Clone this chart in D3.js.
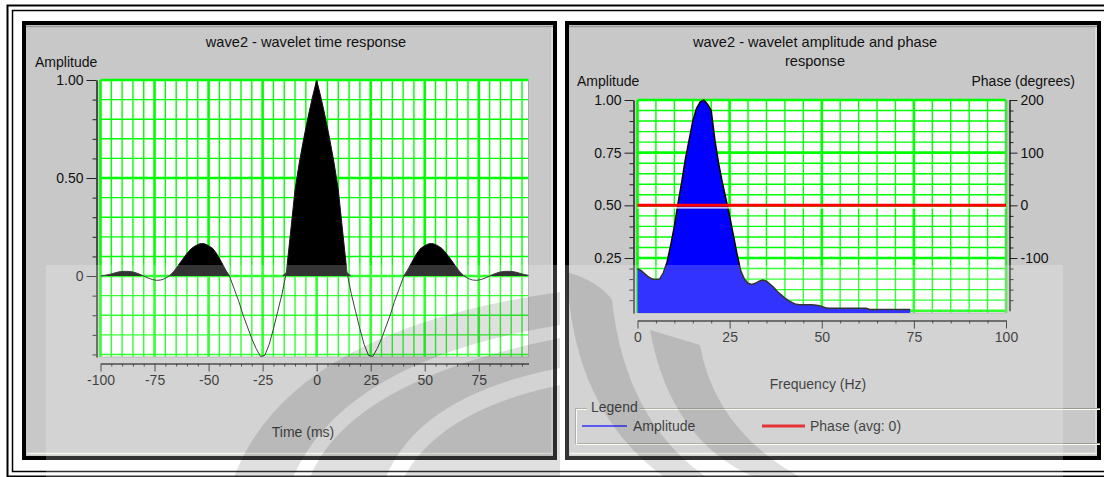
<!DOCTYPE html>
<meta charset="utf-8">
<style>
    html, body { margin: 0; padding: 0; background: #fff; }
    svg { display: block; }
</style>
<body>
<script src="https://d3js.org/d3.v7.min.js"></script>
<script>
    // wavelet time response, sampled every 2 ms
    const timeMs = [-100, -98, -96, -94, -92, -90, -88, -86, -84, -82, -80, -78, -76, -74, -72, -70, -68, -66, -64, -62,
        -60, -58, -56, -54, -52, -50, -48, -46, -44, -42, -40, -38, -36, -34, -32, -30, -28, -26, -24, -22,
        -20, -18, -16, -14, -12, -10, -8, -6, -4, -2, 0, 2, 4, 6, 8, 10, 12, 14, 16, 18,
        20, 22, 24, 26, 28, 30, 32, 34, 36, 38, 40, 42, 44, 46, 48, 50, 52, 54, 56, 58,
        60, 62, 64, 66, 68, 70, 72, 74, 76, 78, 80, 82, 84, 86, 88, 90, 92, 94, 96, 98];
    const timeAmp = [0.0, 0.003, 0.008, 0.014, 0.02, 0.024, 0.024, 0.023, 0.018, 0.01, 0.0, -0.01, -0.018, -0.022, -0.02, -0.012, 0.002, 0.025, 0.055, 0.085,
        0.115, 0.14, 0.155, 0.165, 0.165, 0.155, 0.14, 0.11, 0.07, 0.03, -0.01, -0.07, -0.13, -0.2, -0.26, -0.32, -0.37, -0.41, -0.405, -0.35,
        -0.27, -0.18, -0.09, 0.02, 0.23, 0.44, 0.58, 0.7, 0.81, 0.91, 1.0, 0.91, 0.81, 0.7, 0.58, 0.44, 0.23, 0.02, -0.09, -0.18,
        -0.27, -0.35, -0.405, -0.41, -0.37, -0.32, -0.26, -0.2, -0.13, -0.07, -0.01, 0.03, 0.07, 0.11, 0.14, 0.155, 0.165, 0.165, 0.155, 0.14,
        0.115, 0.085, 0.055, 0.025, 0.002, -0.012, -0.02, -0.022, -0.018, -0.01, 0.0, 0.01, 0.018, 0.023, 0.024, 0.024, 0.02, 0.014, 0.008, 0.003];
    const timeTicks = [-100, -75, -50, -25, 0, 25, 50, 75];
    const timeAmpTicks = [1, 0.5, 0];

    // amplitude spectrum, every 1 Hz
    const freqHz = [0, 1, 2, 3, 4, 5, 6, 7, 8, 9, 10, 11, 12, 13, 14, 15, 16, 17, 18, 19,
        20, 21, 22, 23, 24, 25, 26, 27, 28, 29, 30, 31, 32, 33, 34, 35, 36, 37, 38, 39,
        40, 41, 42, 43, 44, 45, 46, 47, 48, 49, 50, 51, 52, 53, 54, 55, 56, 57, 58, 59,
        60, 61, 62, 63, 64, 65, 66, 67, 68, 69, 70, 71, 72, 73, 74];
    const freqAmp = [0.2, 0.19, 0.175, 0.16, 0.15, 0.148, 0.15, 0.18, 0.23, 0.31, 0.4, 0.51, 0.61, 0.72, 0.81, 0.9, 0.96, 0.99, 1.0, 0.98,
        0.95, 0.81, 0.7, 0.61, 0.53, 0.45, 0.36, 0.27, 0.19, 0.15, 0.13, 0.125, 0.13, 0.14, 0.145, 0.14, 0.125, 0.11, 0.09, 0.075,
        0.06, 0.048, 0.038, 0.03, 0.028, 0.028, 0.028, 0.028, 0.027, 0.025, 0.02, 0.014, 0.012, 0.012, 0.012, 0.012, 0.012, 0.012, 0.012, 0.012,
        0.012, 0.012, 0.012, 0.006, 0.006, 0.006, 0.006, 0.006, 0.006, 0.006, 0.006, 0.006, 0.006, 0.006, 0.006];
    const phaseHz = [0, 100];
    const phaseDeg = [0, 0];
    const freqTicks = [0, 25, 50, 75, 100];
    const freqAmpTicks = [1, 0.75, 0.5, 0.25];
    const phaseTicks = [200, 100, 0, -100];

    const FONT = "'Liberation Sans', Arial, sans-serif";
    const GREEN = "#00ff00";

    const svg = d3.select("body").append("svg")
        .attr("width", 1104)
        .attr("height", 477)
        .style("background", "#fff");

    // outer double frame
    svg.append("rect").attr("x", 7.5).attr("y", 5.5).attr("width", 1110).attr("height", 471)
        .attr("fill", "none").attr("stroke", "#000").attr("stroke-width", 2);
    svg.append("rect").attr("x", 12.5).attr("y", 10.5).attr("width", 1100).attr("height", 461)
        .attr("fill", "none").attr("stroke", "#000").attr("stroke-width", 1.5);

    function panel(x0, x1) {
        const g = svg.append("g");
        g.append("rect").attr("x", x0 + 2).attr("y", 23).attr("width", x1 - x0 - 4).attr("height", 435)
            .attr("fill", "#c8c8c8").attr("stroke", "#000").attr("stroke-width", 4);
        g.append("line").attr("x1", x0 + 4).attr("x2", x1 - 4).attr("y1", 26.5).attr("y2", 26.5)
            .attr("stroke", "#9a9a9a").attr("stroke-width", 1.5);
        g.append("line").attr("x1", x0 + 5).attr("x2", x1 - 4).attr("y1", 453.5).attr("y2", 453.5)
            .attr("stroke", "#f4f2e8").attr("stroke-width", 1.5);
        g.append("line").attr("x1", x1 - 5).attr("x2", x1 - 5).attr("y1", 27).attr("y2", 454)
            .attr("stroke", "#e2e2e2").attr("stroke-width", 1.5);
    }
    panel(22, 557);
    panel(565, 1101);

    function txt(x, y, s, anchor, size) {
        return svg.append("text").attr("x", x).attr("y", y).attr("dy", "0.35em")
            .attr("text-anchor", anchor || "start")
            .attr("font-family", FONT).attr("font-size", size || 14).attr("fill", "#111")
            .text(s);
    }

    function styleAxis(g) {
        g.attr("font-family", FONT).attr("font-size", 14);
        g.select(".domain").attr("stroke", "#222");
        g.selectAll(".tick line").attr("stroke", "#222");
        g.selectAll(".tick text").attr("fill", "#111");
    }

    function grid(g, x, y, xs, ys, xMajor, yMajor) {
        const [xa, xb] = x.range(), [ya, yb] = y.range();
        g.append("rect").attr("x", xa).attr("y", yb).attr("width", xb - xa).attr("height", ya - yb).attr("fill", "#fff");
        const all = xs.map(v => ({ v, k: "x" })).concat(ys.map(v => ({ v, k: "y" })));
        const minor = all.filter(d => !(d.k === "x" ? xMajor(d.v) : yMajor(d.v)));
        const major = all.filter(d => (d.k === "x" ? xMajor(d.v) : yMajor(d.v)));
        [[minor, 1.4], [major, 2.6]].forEach(([set, w]) => {
            g.selectAll(null).data(set).join("line")
                .attr("x1", d => d.k === "x" ? x(d.v) : xa)
                .attr("x2", d => d.k === "x" ? x(d.v) : xb)
                .attr("y1", d => d.k === "x" ? ya : y(d.v))
                .attr("y2", d => d.k === "x" ? yb : y(d.v))
                .attr("stroke", GREEN).attr("stroke-width", w);
        });
        g.append("path").attr("d", `M${xb},${yb}V${ya}H${xa}`).attr("fill", "none").attr("stroke", "#a8a8a8");
    }

    const isMult = (v, m) => Math.abs(v / m - Math.round(v / m)) < 1e-6;
    const plain = d => String(d);

    // ---------- left chart: time response ----------
    const xT = d3.scaleLinear().domain([-100, 98]).range([100.5, 528.5]);
    const yT = d3.scaleLinear().domain([-0.413, 1]).range([357, 80]);

    const left = svg.append("g");
    grid(left, xT, yT,
        d3.range(-100, 98, 5), d3.range(-4, 11).map(d => d / 10),
        v => isMult(v, 25), v => isMult(v, 0.5));

    const pts = timeMs.map((t, i) => [t, timeAmp[i]]);
    left.append("path").datum(pts)
        .attr("d", d3.area().x(d => xT(d[0])).y0(yT(0)).y1(d => yT(Math.max(0, d[1]))))
        .attr("fill", "#000");
    left.append("path").datum(pts)
        .attr("d", d3.line().x(d => xT(d[0])).y(d => yT(d[1])))
        .attr("fill", "none").attr("stroke", "#111").attr("stroke-width", 1);

    const fmtAmp = d => d === 0 ? "0" : d3.format(".2f")(d);

    left.append("g").attr("transform", "translate(96.5,0)")
        .call(d3.axisLeft(yT).tickValues(d3.range(-4, 11).map(d => d / 10).filter(v => !isMult(v, 0.5)))
            .tickSize(4).tickFormat("").tickSizeOuter(0))
        .call(styleAxis);
    left.append("g").attr("transform", "translate(96.5,0)")
        .call(d3.axisLeft(yT).tickValues(timeAmpTicks).tickSize(10).tickPadding(3).tickFormat(fmtAmp).tickSizeOuter(0))
        .call(styleAxis);

    left.append("g").attr("transform", "translate(0,363.5)")
        .call(d3.axisBottom(xT).tickValues(d3.range(-100, 98, 5).filter(v => !isMult(v, 25)))
            .tickSize(3).tickFormat("").tickSizeOuter(0))
        .call(styleAxis);
    left.append("g").attr("transform", "translate(0,363.5)")
        .call(d3.axisBottom(xT).tickValues(timeTicks).tickSize(8).tickPadding(4).tickFormat(plain).tickSizeOuter(0))
        .call(styleAxis);

    txt(306, 42, "wave2 - wavelet time response", "middle", 14.6);
    txt(35, 62, "Amplitude");
    txt(303, 432, "Time (ms)", "middle");

    // ---------- right chart: amplitude and phase ----------
    const xF = d3.scaleLinear().domain([0, 100]).range([637.5, 1006]);
    const yA = d3.scaleLinear().domain([-0.011, 1]).range([313, 100]);
    const yP = d3.scaleLinear().domain([-200, 200]).range([yA(0), yA(1)]);

    const right = svg.append("g");
    grid(right, xF, yA,
        d3.range(0, 101, 5), d3.range(0, 21).map(d => d / 20),
        v => isMult(v, 25), v => isMult(v, 0.25));

    const fpts = freqHz.map((f, i) => [f, freqAmp[i]]);
    right.append("path").datum(fpts)
        .attr("d", d3.area().x(d => xF(d[0])).y0(yA.range()[0]).y1(d => yA(d[1])))
        .attr("fill", "#0000ff");
    right.append("path").datum(fpts)
        .attr("d", d3.line().x(d => xF(d[0])).y(d => yA(d[1])))
        .attr("fill", "none").attr("stroke", "#000").attr("stroke-width", 1.5);

    const ppts = phaseHz.map((f, i) => [f, phaseDeg[i]]);
    right.append("path").datum(ppts)
        .attr("d", d3.line().x(d => xF(d[0])).y(d => yP(d[1]) + 2.5))
        .attr("fill", "none").attr("stroke", "#fff").attr("stroke-width", 1.2);
    right.append("path").datum(ppts)
        .attr("d", d3.line().x(d => xF(d[0])).y(d => yP(d[1])))
        .attr("fill", "none").attr("stroke", "#ff0000").attr("stroke-width", 3);

    right.append("g").attr("transform", "translate(633.5,0)")
        .call(d3.axisLeft(yA).tickValues(d3.range(1, 21).map(d => d / 20).filter(v => !isMult(v, 0.25)))
            .tickSize(4).tickFormat("").tickSizeOuter(0))
        .call(styleAxis);
    right.append("g").attr("transform", "translate(633.5,0)")
        .call(d3.axisLeft(yA).tickValues(freqAmpTicks).tickSize(9).tickPadding(3).tickFormat(fmtAmp).tickSizeOuter(0))
        .call(styleAxis);

    right.append("g").attr("transform", "translate(1009.5,0)")
        .call(d3.axisRight(yP).tickValues(d3.range(-180, 200, 20).filter(v => !isMult(v, 100)))
            .tickSize(4).tickFormat("").tickSizeOuter(0))
        .call(styleAxis);
    right.append("g").attr("transform", "translate(1009.5,0)")
        .call(d3.axisRight(yP).tickValues(phaseTicks).tickSize(8).tickPadding(3).tickFormat(plain).tickSizeOuter(0))
        .call(styleAxis);

    right.append("g").attr("transform", "translate(0,320.5)")
        .call(d3.axisBottom(xF).tickValues(d3.range(0, 101, 5).filter(v => !isMult(v, 25)))
            .tickSize(3).tickFormat("").tickSizeOuter(0))
        .call(styleAxis);
    right.append("g").attr("transform", "translate(0,320.5)")
        .call(d3.axisBottom(xF).tickValues(freqTicks).tickSize(8).tickPadding(4).tickFormat(plain).tickSizeOuter(0))
        .call(styleAxis);

    txt(815, 42, "wave2 - wavelet amplitude and phase", "middle", 14.6);
    txt(815, 61, "response", "middle", 14.6);
    txt(577, 81, "Amplitude");
    txt(1075, 81, "Phase (degrees)", "end");
    txt(818, 384, "Frequency (Hz)", "middle");

    // legend group box
    const lg = svg.append("g");
    lg.append("path").attr("d", "M587,408.5H575.5V443.5H1100M640,408.5H1100")
        .attr("fill", "none").attr("stroke", "#9c9a92").attr("stroke-width", 1);
    lg.append("path").attr("d", "M587,409.5H576.5V444.5H1100M640,409.5H1100")
        .attr("fill", "none").attr("stroke", "#fbfaf4").attr("stroke-width", 1);
    txt(591, 407, "Legend");
    lg.append("line").attr("x1", 582).attr("x2", 627).attr("y1", 426).attr("y2", 426)
        .attr("stroke", "#0000ff").attr("stroke-width", 1.5);
    txt(633, 426, "Amplitude");
    lg.append("line").attr("x1", 762).attr("x2", 805).attr("y1", 426).attr("y2", 426)
        .attr("stroke", "#e00000").attr("stroke-width", 3);
    txt(810, 426, "Phase (avg: 0)");

    // watermark logo laid over the lower part
    const wm = svg.append("g").attr("pointer-events", "none");
    wm.append("rect").attr("x", 46).attr("y", 265).attr("width", 1017).attr("height", 212)
        .attr("fill", "#fff").attr("opacity", 0.2);
    const shapes = [
        "M234,477 Q290,330 560,292 L560,325 Q345,360 293,477 Z",
        "M310,477 Q350,380 560,338 L560,368 Q420,395 386,477 Z",
        "M404,477 Q440,410 560,385 L560,477 Z",
        "M567,272 Q572,410 664,477 L706,477 Q625,420 612,300 Q600,282 567,272 Z",
        "M650,330 Q670,440 754,477 L800,477 Q715,430 700,345 Z"
    ];
    wm.selectAll("path").data(shapes).join("path")
        .attr("d", d => d).attr("fill", "#000").attr("opacity", 0.12);
</script>
</body>
